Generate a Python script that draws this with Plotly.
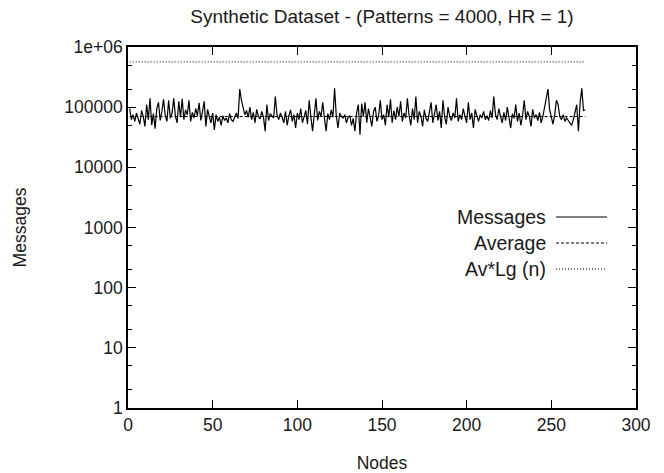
import plotly.graph_objects as go

# ---------------- data ----------------
nodes = list(range(1, 271))
messages_k = [
    95, 62, 75, 58, 80, 66, 52, 88, 70, 48, 110, 62, 140, 50, 78, 44, 95, 120, 60, 85,
    135, 72, 58, 130, 65, 80, 140, 70, 55, 125, 68, 138, 62, 90, 75, 130, 58, 82, 66, 95,
    72, 118, 60, 85, 125, 48, 92, 70, 55, 80, 42, 75, 58, 68, 50, 72, 60, 66, 55, 78,
    62, 58, 70, 80, 65, 200, 130, 95, 75, 88, 68, 100, 62, 82, 55, 92, 70, 64, 85, 68,
    40, 110, 60, 78, 70, 66, 150, 75, 62, 80, 68, 55, 85, 50, 72, 90, 58, 75, 45, 80,
    62, 95, 55, 70, 88, 52, 130, 68, 40, 75, 140, 60, 85, 70, 120, 66, 40, 78, 62, 90,
    68, 205, 72, 45, 80, 70, 66, 75, 55, 68, 72, 50, 65, 40, 80, 110, 35, 115, 70, 120,
    55, 95, 62, 48, 85, 100, 58, 72, 130, 62, 75, 50, 110, 68, 135, 55, 88, 62, 100, 70,
    125, 58, 80, 66, 140, 72, 50, 95, 62, 150, 55, 85, 70, 48, 90, 65, 58, 80, 120, 55,
    75, 110, 60, 85, 45, 130, 68, 52, 100, 70, 60, 80, 66, 140, 58, 75, 62, 95, 70, 55,
    120, 62, 80, 45, 92, 70, 58, 75, 66, 85, 62, 72, 60, 88, 66, 150, 75, 62, 95, 70,
    55, 82, 60, 100, 66, 45, 78, 65, 110, 58, 80, 50, 72, 130, 62, 85, 70, 48, 92, 66,
    75, 60, 82, 55, 70, 95, 140, 200, 90, 65, 52, 75, 130, 110, 70, 62, 75, 58, 66, 60,
    55, 50, 62, 80, 110, 40, 120, 205, 88, 90,
]
messages = [v * 1000 for v in messages_k]
average_value = 70000
avlg_value = 565000
avg_x = [1, 270]
average = [average_value, average_value]
avlg = [avlg_value, avlg_value]

title_text = "Synthetic Dataset - (Patterns = 4000, HR = 1)"
x_ticks = [0, 50, 100, 150, 200, 250, 300]
y_ticks = [1, 10, 100, 1000, 10000, 100000, 1000000]
y_ticktext = ["1", "10", "100", "1000", "10000", "100000", "1e+06"]
y_minor = [m * 10 ** d for d in range(0, 6) for m in (2, 5)]
legend_labels = ["Messages", "Average", "Av*Lg (n)"]

# ---------------- figure ----------------
FONT = "Liberation Sans, Arial, sans-serif"
TXT = "#1a1a1a"
fig = go.Figure()
fig.add_trace(go.Scatter(x=nodes, y=messages, mode="lines",
                         line=dict(color="black", width=1.2), showlegend=False))
fig.add_trace(go.Scatter(x=avg_x, y=average, mode="lines",
                         line=dict(color="black", width=1, dash="3px,2px"), showlegend=False))
fig.add_trace(go.Scatter(x=avg_x, y=avlg, mode="lines",
                         line=dict(color="black", width=1, dash="1px,2px"), showlegend=False))

L, R, T, B = 128, 28, 47, 65
W, H = 664, 473
pw, ph = W - L - R, H - T - B

# gnuplot-style legend: text right-aligned, sample to the right
dashes = ["solid", "3px,2px", "1px,2px"]
rows_y = [217, 243, 269]
for lab, dsh, yy in zip(legend_labels, dashes, rows_y):
    yp = 1 - (yy - T) / ph
    fig.add_annotation(xref="paper", yref="paper", x=(548 - L) / pw, y=yp,
                       text=lab, showarrow=False, xanchor="right", yanchor="middle",
                       font=dict(family=FONT, size=19.5, color=TXT))
    fig.add_shape(type="line", xref="paper", yref="paper",
                  x0=(556 - L) / pw, x1=(607 - L) / pw, y0=yp, y1=yp,
                  line=dict(color="black", width=1, dash=dsh))

fig.update_layout(
    width=W, height=H,
    margin=dict(l=L, r=R, t=T, b=B),
    paper_bgcolor="white", plot_bgcolor="white",
    font=dict(family=FONT, size=17.5, color=TXT),
    title=dict(text=title_text, x=(L + pw / 2) / W, xanchor="center",
               y=1 - 16 / H, yanchor="middle", font=dict(size=19, color=TXT)),
    showlegend=False,
)
fig.update_xaxes(
    range=[0, 300], tickvals=x_ticks, ticks="inside", ticklen=8, tickwidth=1,
    tickcolor="black", showline=True, linecolor="black", linewidth=1.5,
    mirror="allticks", showgrid=False, zeroline=False, automargin=False,
    tickfont=dict(size=17.5, color=TXT),
    title=dict(text="Nodes", standoff=26, font=dict(size=17.5, color=TXT)),
)
fig.update_yaxes(
    type="log", range=[0, 6], tickvals=y_ticks, ticktext=y_ticktext,
    ticks="inside", ticklen=8, tickwidth=1, tickcolor="black",
    showline=True, linecolor="black", linewidth=1.5, mirror="allticks",
    showgrid=False, zeroline=False, automargin=False,
    tickfont=dict(size=17.5, color=TXT),
    minor=dict(tickvals=y_minor, ticks="inside", ticklen=4, tickcolor="black", showgrid=False),
    title=dict(text="Messages", standoff=33, font=dict(size=17.5, color=TXT)),
)

fig.write_html("out.html")
